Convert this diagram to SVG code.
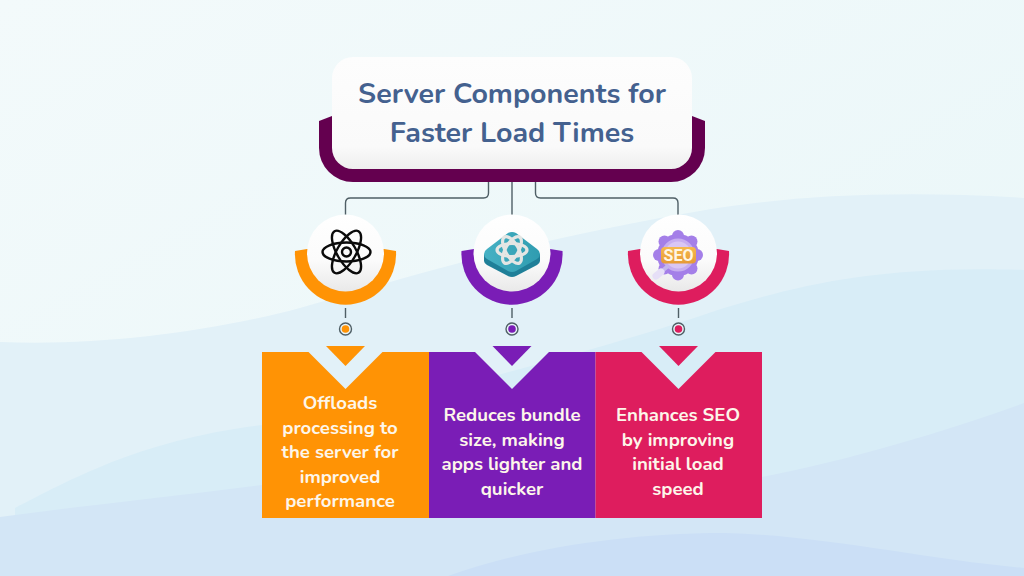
<svg xmlns="http://www.w3.org/2000/svg" width="1024" height="576" viewBox="0 0 1024 576">
<style>
.t{font-family:"Nunito","Noto Sans","Open Sans",sans-serif;font-weight:700;text-anchor:middle}
.title{font-size:28.6px;fill:#44618f}
.body{font-size:18.6px;fill:#fdf6ea}
.conn{fill:none;stroke:#4f5f66;stroke-width:1.4}
.atom{fill:none;stroke:#0b0b0b;stroke-width:2.4}
.atom2{fill:none;stroke:#e4e6e4;stroke-width:3.2}
.dot{fill:#e8f4f8;stroke:#4f5f66;stroke-width:1.4}
</style>
<defs>
<linearGradient id="bg" x1="0" y1="0" x2="1" y2="1"><stop offset="0" stop-color="#f3fafb"/><stop offset="1" stop-color="#e8f6f8"/></linearGradient>
<linearGradient id="hdr" x1="0" y1="0" x2="0" y2="1"><stop offset="0" stop-color="#fdfdfd"/><stop offset=".8" stop-color="#fafafa"/><stop offset="1" stop-color="#eeeeee"/></linearGradient>
<linearGradient id="ball" x1="0" y1="0" x2="0" y2="1"><stop offset="0" stop-color="#ffffff"/><stop offset=".6" stop-color="#fbfbfb"/><stop offset="1" stop-color="#e9e9e9"/></linearGradient>
<linearGradient id="seoB" x1="0" y1="0" x2="0" y2="1"><stop offset="0" stop-color="#f6b94e"/><stop offset="1" stop-color="#e69a35"/></linearGradient>
<linearGradient id="tile" x1="0" y1="0" x2="1" y2="0"><stop offset="0" stop-color="#46b1c4"/><stop offset="1" stop-color="#2f9cb0"/></linearGradient>
</defs>
<rect width="1024" height="576" fill="url(#bg)"/>
<path d="M0 342C100 346 210 332 300 308C400 280 520 240 724 207C800 196 900 190 1024 198V576H0Z" fill="#e2f1f8"/>
<path d="M15 508C70 480 140 440 262 425C400 405 600 350 724 308C800 285 880 265 1024 270V576H15Z" fill="#d8edf7"/>
<path d="M0 517C80 506 170 497 262 485C420 470 640 495 762 477C850 460 950 430 1024 403V576H0Z" fill="#d3e6f6"/>
<path d="M448 576C520 550 620 533 724 533C820 535 930 560 1024 568V576Z" fill="#cbdff6"/>

<g id="connectors">
<path class="conn" d="M488.500 182V193Q488.500 198 483.500 198H350.500Q345.500 198 345.500 203V216"/>
<path class="conn" d="M512 182V215"/>
<path class="conn" d="M535.500 182V193Q535.500 198 540.500 198H673Q678 198 678 203V216"/>
<path class="conn" d="M345.500 308V318"/>
<path class="conn" d="M512 308V318"/>
<path class="conn" d="M678.500 308V318"/>
</g>

<g id="header">
<path d="M332 116L319 121V148A34 34 0 0 0 353 182H671A34 34 0 0 0 705 148V121L692 116Z" fill="#64004f"/>
<rect x="332" y="57" width="360" height="112" rx="21" fill="url(#hdr)"/>
<text class="t title" x="512" y="103">Server Components for</text>
<text class="t title" x="512" y="142">Faster Load Times</text>
</g>

<g id="node-orange">
<path d="M295 251A50.600 50.600 0 1 0 396 251L384 249H307Z" fill="#ff9305"/>
<circle cx="345.500" cy="253" r="38.500" fill="url(#ball)"/>
<g transform="translate(346.500 252)">
<ellipse class="atom" rx="24" ry="9.500"/>
<ellipse class="atom" rx="24" ry="9.500" transform="rotate(60)"/>
<ellipse class="atom" rx="24" ry="9.500" transform="rotate(120)"/>
<circle class="atom" r="4.500"/>
</g>
<circle class="dot" cx="345.500" cy="329" r="6"/>
<circle cx="345.500" cy="329" r="3.800" fill="#ff9305"/>
<path d="M326 346H365L345.500 366Z" fill="#ff9305"/>
<path d="M262 352H308.500L345.500 389L382.500 352H429V518H262Z" fill="#ff9305"/>
<g class="t body">
<text x="340" y="409">Offloads</text>
<text x="340" y="433.500">processing to</text>
<text x="340" y="458">the server for</text>
<text x="340" y="482.500">improved</text>
<text x="340" y="507">performance</text>
</g>
</g>

<g id="node-purple">
<path d="M461.500 251A50.600 50.600 0 1 0 562.500 251L550 249H474Z" fill="#7a1db6"/>
<circle cx="512" cy="253" r="38.500" fill="url(#ball)"/>
<path d="M484 254V261Q484 263 487 265L508 276Q512 278 516 276L537 265Q540 263 540 261V254Z" fill="#1f7f98"/>
<path d="M484 254Q484 251 487 249L508 233Q512 231 516 233L537 249Q540 251 540 254Q540 257 537 259L516 271Q512 273 508 271L487 259Q484 257 484 254Z" fill="url(#tile)"/>
<g transform="translate(512 250)">
<ellipse class="atom2" rx="15" ry="6.500"/>
<ellipse class="atom2" rx="15" ry="6.500" transform="rotate(60)"/>
<ellipse class="atom2" rx="15" ry="6.500" transform="rotate(120)"/>
</g>
<circle class="dot" cx="512" cy="329" r="6"/>
<circle cx="512" cy="329" r="3.800" fill="#7a1db6"/>
<path d="M492.500 346H531.500L512 366Z" fill="#7a1db6"/>
<path d="M429 352H475L512 389L549 352H595.500V518H429Z" fill="#7a1db6"/>
<g class="t body">
<text x="512" y="421">Reduces bundle</text>
<text x="512" y="445.500">size, making</text>
<text x="512" y="470">apps lighter and</text>
<text x="512" y="494.500">quicker</text>
</g>
</g>

<g id="node-pink">
<path d="M628 251A50.600 50.600 0 1 0 729 251L717 249H640Z" fill="#de1d5e"/>
<circle cx="678.500" cy="253" r="38.500" fill="url(#ball)"/>
<g fill="#a47fe8">
<circle cx="678" cy="255" r="21"/>
<circle cx="678" cy="236" r="6"/>
<circle cx="691.500" cy="241.500" r="6"/>
<circle cx="697" cy="255" r="6"/>
<circle cx="691.500" cy="268.500" r="6"/>
<circle cx="678" cy="274.500" r="6"/>
<circle cx="664.500" cy="268.500" r="6"/>
<circle cx="659" cy="255" r="6"/>
<circle cx="664.500" cy="241.500" r="6"/>
</g>
<circle cx="678" cy="255" r="15" fill="#d9c6f4" stroke="#c7aef0" stroke-width="3"/>
<path d="M668 266L661 272" stroke="#c3b6ee" stroke-width="4" fill="none"/>
<path d="M661 272L656 276" stroke="#e6dff7" stroke-width="7" stroke-linecap="round" fill="none"/>
<rect x="661" y="247" width="35" height="16.500" rx="4" fill="url(#seoB)"/>
<text x="678.500" y="261" font-family="Roboto,'Liberation Sans',sans-serif" font-weight="700" font-size="16" text-anchor="middle" fill="#fff6e4">SEO</text>
<circle class="dot" cx="678.500" cy="329" r="6"/>
<circle cx="678.500" cy="329" r="3.800" fill="#de1d5e"/>
<path d="M659 346H698L678.500 366Z" fill="#de1d5e"/>
<path d="M595.500 352H641.500L678.500 389L715.500 352H762V518H595.500Z" fill="#de1d5e"/>
<g class="t body">
<text x="678" y="421">Enhances SEO</text>
<text x="678" y="445.500">by improving</text>
<text x="678" y="470">initial load</text>
<text x="678" y="494.500">speed</text>
</g>
</g>
</svg>
